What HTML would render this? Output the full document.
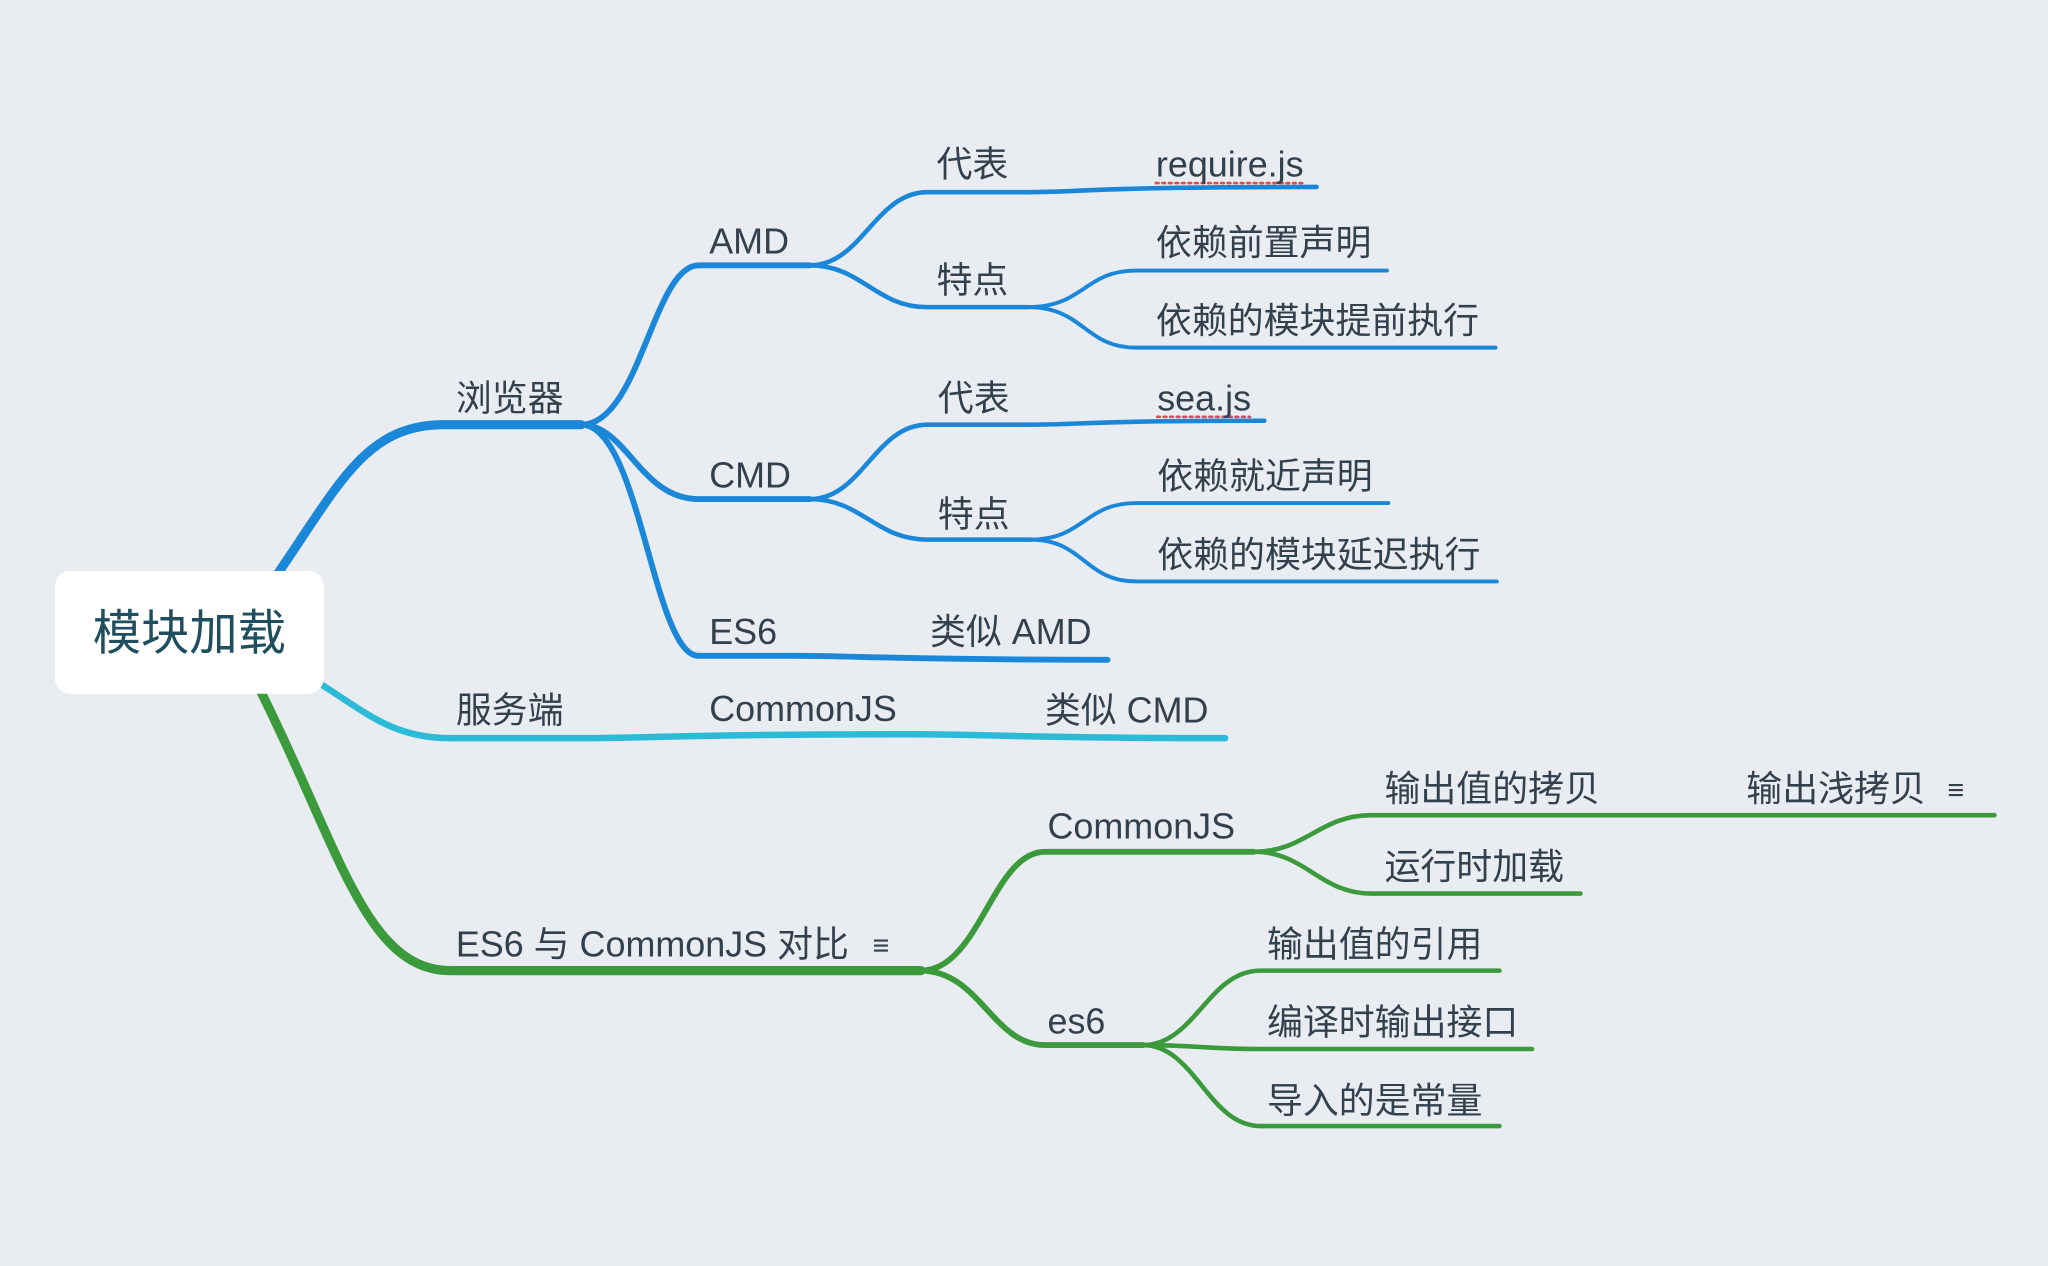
<!DOCTYPE html>
<html><head><meta charset="utf-8"><style>
html,body{margin:0;padding:0;background:#e9edf1;}
svg{display:block}
text{font-family:"Liberation Sans","Noto Sans CJK SC",sans-serif;font-size:27.5px;fill:#33404e}
</style></head><body>
<svg width="2048" height="1266" viewBox="0 0 1568 969" xmlns="http://www.w3.org/2000/svg">
<rect width="1568" height="969" fill="#e9edf1"/>
<g fill="none" stroke-linecap="round">
<g stroke="#1b87d9">
<path d="M212 440 C260 370,280 325,340 325 L445 325" stroke-width="7"/>
<path d="M445 325 C490 325,500 203,535 203 L620 203" stroke-width="4.5"/>
<path d="M445 325 C480 325,490 382,535 382 L620 382" stroke-width="4.5"/>
<path d="M445 325 C490 325,500 502,535 502 L610 502 C650 502,700 505,848 505" stroke-width="4.5"/>
<path d="M620 203 C660 203,670 147,710 147 L785 147 C830 147,830 143,1008 143" stroke-width="3.5"/>
<path d="M620 203 C660 203,670 235,710 235 L787 235" stroke-width="3.5"/>
<path d="M787 235 C830 235,830 207,870 207 L1062 207" stroke-width="3"/>
<path d="M787 235 C830 235,830 266,870 266 L1145 266" stroke-width="3"/>
<path d="M620 382 C660 382,670 325,710 325 L787 325 C830 325,830 322,968 322" stroke-width="3.5"/>
<path d="M620 382 C660 382,670 413,710 413 L789 413" stroke-width="3.5"/>
<path d="M789 413 C830 413,830 385,870 385 L1063 385" stroke-width="3"/>
<path d="M789 413 C830 413,830 445,870 445 L1146 445" stroke-width="3"/>
</g>
<path d="M243 522 C280 545,300 565,345 565 L440 565 C500 565,520 562,700 562 C760 562,780 565,938 565" stroke="#2cbbd7" stroke-width="5"/>
<g stroke="#3b9a3c">
<path d="M200 530 C260 650,280 743,345 743 L705 743" stroke-width="7"/>
<path d="M705 743 C750 743,760 652,800 652 L960 652" stroke-width="4.5"/>
<path d="M705 743 C750 743,760 800,800 800 L875 800" stroke-width="4.5"/>
<path d="M960 652 C1000 652,1010 624,1050 624 L1235 624 L1527 624" stroke-width="3.5"/>
<path d="M960 652 C1000 652,1010 684,1050 684 L1210 684" stroke-width="3.5"/>
<path d="M875 800 C915 800,925 743,965 743 L1148 743" stroke-width="3.5"/>
<path d="M875 800 C915 800,925 803,965 803 L1173 803" stroke-width="3.5"/>
<path d="M875 800 C915 800,925 862,965 862 L1148 862" stroke-width="3.5"/>
</g>
<path d="M885 140 L997 140" stroke="#e24b4b" stroke-width="2" stroke-dasharray="2 3"/>
<path d="M886 319 L957 319" stroke="#e24b4b" stroke-width="2" stroke-dasharray="2 3"/>
</g>
<rect x="42" y="437" width="206" height="94" rx="12" fill="#fff"/>
<text x="145" y="497" text-anchor="middle" style="font-size:37px;fill:#1f4e5f">模块加载</text>
<text x="349" y="314">浏览器</text>
<text x="543" y="194">AMD</text>
<text x="717" y="135">代表</text>
<text x="885" y="135">require.js</text>
<text x="717" y="224">特点</text>
<text x="885" y="195">依赖前置声明</text>
<text x="885" y="255">依赖的模块提前执行</text>
<text x="543" y="373">CMD</text>
<text x="718" y="314">代表</text>
<text x="886" y="314">sea.js</text>
<text x="718" y="403">特点</text>
<text x="886" y="374">依赖就近声明</text>
<text x="886" y="434">依赖的模块延迟执行</text>
<text x="543" y="493">ES6</text>
<text x="712" y="493">类似 AMD</text>
<text x="349" y="553">服务端</text>
<text x="543" y="552">CommonJS</text>
<text x="800" y="553">类似 CMD</text>
<text x="349" y="732">ES6 与 CommonJS 对比</text>
<text x="668" y="731" style="font-size:22px">≡</text>
<text x="802" y="642">CommonJS</text>
<text x="1060" y="613">输出值的拷贝</text>
<text x="1337" y="613">输出浅拷贝</text>
<text x="1491" y="612" style="font-size:22px">≡</text>
<text x="1060" y="673">运行时加载</text>
<text x="802" y="791">es6</text>
<text x="970" y="732">输出值的引用</text>
<text x="970" y="792">编译时输出接口</text>
<text x="970" y="852">导入的是常量</text>
</svg>
</body></html>
